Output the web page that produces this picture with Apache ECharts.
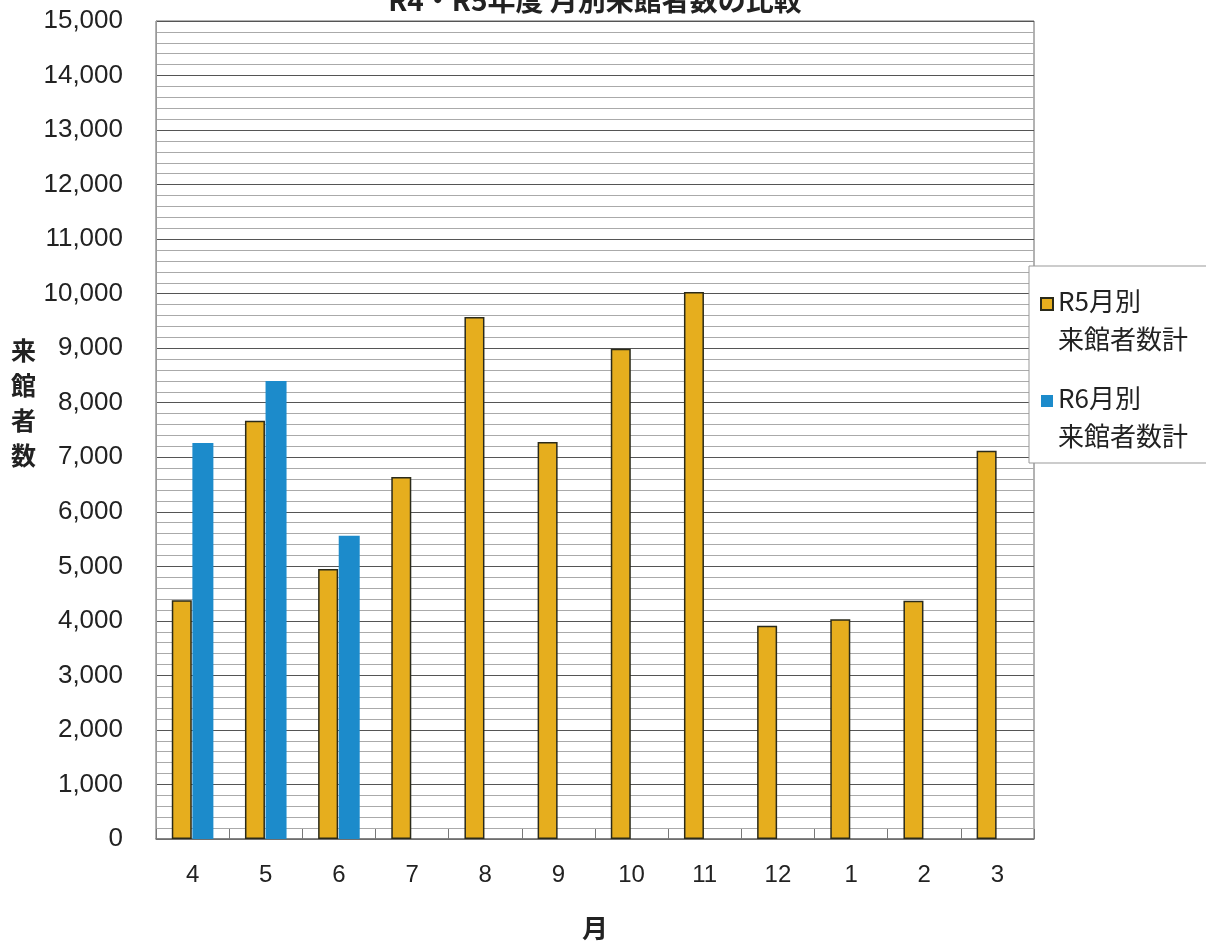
<!DOCTYPE html>
<html>
<head>
<meta charset="utf-8">
<script src="https://cdn.jsdelivr.net/npm/echarts@6/dist/echarts.min.js"></script>
<style>
  html, body { margin: 0; padding: 0; background: #fff; }
  #chart { width: 1206px; height: 947px; }
</style>
</head>
<body>
<div id="chart"></div>
<script>
// 月（年度順）
const months = ['4', '5', '6', '7', '8', '9', '10', '11', '12', '1', '2', '3']
// R5 月別来館者数
const r5Values = [4380, 7670, 4950, 6640, 9570, 7280, 8990, 10030, 3910, 4030, 4370, 7120]
// R6 月別来館者数（6月まで）
const r6Values = [7260, 8400, 5560, null, null, null, null, null, null, null, null, null]

const font = '"Noto Sans CJK JP", sans-serif'
const numFont = '"Liberation Sans", "Noto Sans CJK JP", sans-serif'

// 凡例アイコン: 上寄せの四角（2行テキストの1行目に合わせる）
const legendIcon = 'path://M0,0h12v12h-12z M0,44'

const chart = echarts.init(document.getElementById('chart'))

chart.setOption({
  backgroundColor: '#fff',
  animation: false,
  textStyle: { fontFamily: font },
  title: {
    text: 'R4・R5年度 月別来館者数の比較',
    left: 590,
    textAlign: 'center',
    top: -19,
    textStyle: { fontSize: 28, fontWeight: 'bold', color: '#222', fontFamily: font }
  },
  grid: {
    left: 156, right: 172, top: 21, bottom: 108,
    outerBoundsMode: 'none',
    show: true, borderColor: '#666', borderWidth: 1, backgroundColor: '#fff'
  },
  legend: {
    orient: 'vertical',
    left: 1029,
    top: 266,
    padding: [16, 40, 8, 11],
    itemGap: 21,
    itemWidth: 12,
    itemHeight: 44,
    backgroundColor: '#fff',
    borderColor: '#999',
    borderWidth: 1,
    icon: legendIcon,
    textStyle: { fontSize: 26, color: '#222', lineHeight: 38, fontFamily: font },
    data: ['R5月別\n来館者数計', 'R6月別\n来館者数計']
  },
  xAxis: {
    type: 'category',
    data: months,
    name: '月',
    nameLocation: 'middle',
    nameGap: 76,
    nameTextStyle: { fontSize: 26, color: '#222', fontWeight: 'bold' },
    axisLine: { lineStyle: { color: '#777', width: 1.5 } },
    axisTick: { show: true, inside: true, length: 10, lineStyle: { color: '#777' } },
    axisLabel: { fontSize: 24, color: '#222', margin: 24, fontFamily: numFont }
  },
  yAxis: {
    type: 'value',
    min: 0,
    max: 15000,
    interval: 1000,
    // 最後の空行で縦位置を上へずらす
    name: '来\n館\n者\n数\n{s| }',
    nameLocation: 'middle',
    nameRotate: 0,
    nameGap: 120,
    nameTextStyle: {
      fontSize: 25, color: '#222', fontWeight: 'bold', lineHeight: 35,
      rich: { s: { lineHeight: 55, fontSize: 10 } }
    },
    axisLine: { show: true, lineStyle: { color: '#999' } },
    axisTick: { show: false },
    axisLabel: {
      fontSize: 26,
      color: '#222',
      margin: 33,
      fontFamily: numFont,
      formatter: (v) => v.toLocaleString('en-US')
    },
    splitLine: { show: true, lineStyle: { color: '#555', width: 1.2 } },
    minorTick: { show: false, splitNumber: 5 },
    minorSplitLine: { show: true, lineStyle: { color: '#aaa', width: 1 } }
  },
  series: [
    {
      name: 'R5月別\n来館者数計',
      type: 'bar',
      data: r5Values,
      barWidth: 20,
      barGap: '3%',
      itemStyle: { color: '#E6AE1E', borderColor: '#2a2a1a', borderWidth: 1.5 }
    },
    {
      name: 'R6月別\n来館者数計',
      type: 'bar',
      data: r6Values,
      barWidth: 21,
      itemStyle: { color: '#1C8BCB' }
    }
  ]
})
</script>
</body>
</html>
